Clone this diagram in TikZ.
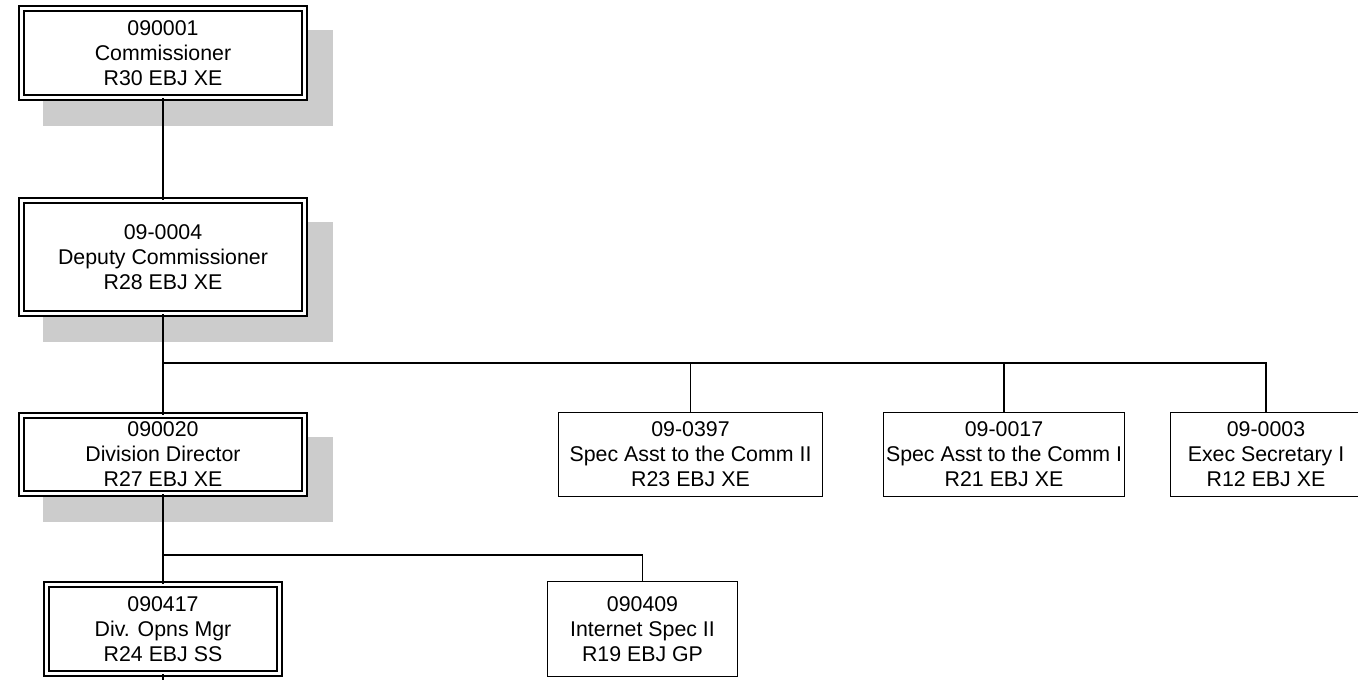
\documentclass[tikz,border=0pt]{standalone}
\usepackage{fontspec}
\setmainfont{Liberation Sans}
\usetikzlibrary{shadows}

\begin{document}
\begin{tikzpicture}[x=0.75pt, y=-0.75pt,
    post/.style={draw, fill=white, line width=1pt, align=center, inner sep=0pt,
        font=\fontsize{16}{18.75}\selectfont},
    doublepost/.style={post, double, line width=1.3pt, double distance=2.6pt},
    headpost/.style={doublepost,
        drop shadow={fill=black!20, draw=black!20, line width=5.2pt, opacity=1,
            shadow xshift=18.75pt, shadow yshift=-18.4pt}},
    link/.style={line width=1pt}]
    \useasboundingbox (0,0) rectangle (1358,679);

    % top of the chart
    \node[headpost, minimum width=212.25pt, minimum height=66.75pt] (comm) at (163, 53)
        {090001\\Commissioner\\R30 EBJ XE};
    \node[headpost, minimum width=212.25pt, minimum height=84.75pt] (depcomm) at (163, 257)
        {09-0004\\Deputy Commissioner\\R28 EBJ XE};

    % third row
    \node[headpost, minimum width=212.25pt, minimum height=58.5pt] (divdir) at (163, 454.5)
        {090020\\Division Director\\R27 EBJ XE};
    \node[post, minimum width=197.75pt, minimum height=62.75pt] (asst2) at (690.5, 454.5)
        {09-0397\\Spec Asst to the Comm II\\R23 EBJ XE};
    \node[post, minimum width=180.5pt, minimum height=62.75pt] (asst1) at (1004, 454.5)
        {09-0017\\Spec Asst to the Comm I\\R21 EBJ XE};
    \node[post, minimum width=143pt, minimum height=62.75pt] (execsec) at (1266, 454.5)
        {09-0003\\Exec Secretary I\\R12 EBJ XE};

    % bottom row
    \node[doublepost, minimum width=174.75pt, minimum height=66.75pt] (opnsmgr) at (163, 629)
        {090417\\Div. Opns Mgr\\R24 EBJ SS};
    \node[post, minimum width=142.25pt, minimum height=71pt] (netspec) at (642.5, 629)
        {090409\\Internet Spec II\\R19 EBJ GP};

    % connectors
    \coordinate (busdep) at (163, 363);
    \coordinate (busdiv) at (163, 555);
    \coordinate (tail) at (163, 700);
    \draw[link] (comm) -- (depcomm);
    \draw[link] (depcomm) -- (divdir);
    \foreach \n in {asst2, asst1, execsec}
        \draw[link] (busdep) -| (\n.north);
    \draw[link] (divdir) -- (opnsmgr);
    \draw[link] (busdiv) -| (netspec.north);
    \draw[link] (opnsmgr) -- (tail);
\end{tikzpicture}
\end{document}
